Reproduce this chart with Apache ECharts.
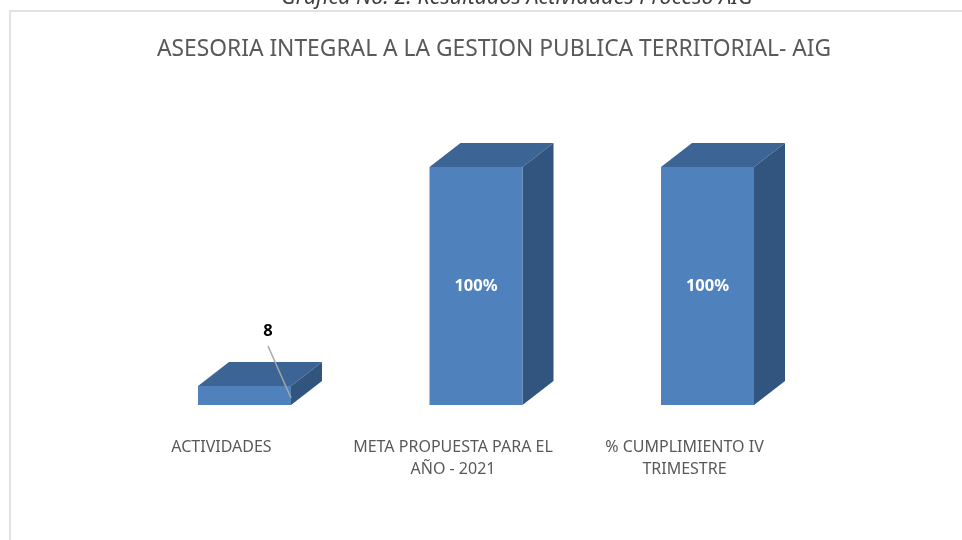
<!DOCTYPE html>
<html>
<head>
<meta charset="utf-8">
<script src="https://cdn.jsdelivr.net/npm/echarts@6/dist/echarts.min.js"></script>
<style>
    html, body { margin: 0; padding: 0; background: #fff; }
    #chart { width: 962px; height: 540px; }
</style>
</head>
<body>
<div id="chart"></div>
<script>
// datos
const categories = ['ACTIVIDADES', 'META PROPUESTA PARA EL\nAÑO - 2021', '% CUMPLIMIENTO IV\nTRIMESTRE']
const values = [8, 100, 100]
const valueLabels = ['8', '100%', '100%']

const FONT = '"Noto Sans", sans-serif'
const DX = 31 // profundidad 3D
const DY = 24

const renderBox = (params, api) => {
    const i = params.dataIndex
    const base = api.coord([api.value(0), 0])
    const top = api.coord([api.value(0), api.value(1)])
    const w = api.size([1, 0])[0] * 93 / 231.5
    const x0 = base[0] - w / 2
    const x1 = base[0] + w / 2
    const yb = base[1]
    const yt = top[1]
    const children = [
        { type: 'polygon', shape: { points: [[x0, yt], [x0 + DX, yt - DY], [x1 + DX, yt - DY], [x1, yt]] }, style: { fill: '#3C6596' } },
        { type: 'polygon', shape: { points: [[x1, yt], [x1 + DX, yt - DY], [x1 + DX, yb - DY], [x1, yb]] }, style: { fill: '#32557F' } },
        { type: 'rect', shape: { x: x0, y: yt, width: w, height: yb - yt }, style: { fill: '#4F81BD' } }
    ]
    if (yb - yt > 40) {
        children.push({
            type: 'text',
            style: { text: valueLabels[i], x: base[0], y: (yt + yb) / 2, align: 'center', verticalAlign: 'middle', fill: '#fff', font: 'bold 16.5px ' + FONT }
        })
    } else {
        // etiqueta fuera con línea guía
        children.push({ type: 'line', shape: { x1: x1 - 23, y1: yt - 40, x2: x1, y2: yb - 7 }, style: { stroke: '#A6A6A6', lineWidth: 1.5 } })
        children.push({
            type: 'text',
            style: { text: valueLabels[i], x: x1 - 23, y: yt - 55, align: 'center', verticalAlign: 'middle', fill: '#000', font: 'bold 16.5px ' + FONT }
        })
    }
    return { type: 'group', children }
}

const myChart = echarts.init(document.getElementById('chart'))
myChart.setOption({
    animation: false,
    graphic: [
        { type: 'rect', shape: { x: 10, y: 11, width: 1000, height: 600 }, style: { fill: 'none', stroke: '#D9D9D9', lineWidth: 1.5 }, silent: true },
        { type: 'text', style: { text: 'Gráfica No. 2. Resultados Actividades Proceso AIG', x: 517, y: 9, align: 'center', verticalAlign: 'bottom', fill: '#404040', font: 'italic 21.5px ' + FONT } },
        { type: 'text', style: { text: 'ASESORIA INTEGRAL A LA GESTION PUBLICA TERRITORIAL- AIG', x: 494, y: 50, align: 'center', verticalAlign: 'middle', fill: '#595959', font: '22.8px ' + FONT } }
    ],
    grid: { left: 128.75, right: 138.75, top: 167, bottom: 135 },
    xAxis: {
        type: 'category',
        data: categories,
        axisLine: { show: false },
        axisTick: { show: false },
        axisLabel: {
            margin: 31,
            color: '#595959',
            fontSize: 16,
            fontFamily: FONT,
            lineHeight: 22,
            padding: [0, 46, 0, 0],
            interval: 0
        }
    },
    yAxis: { type: 'value', min: 0, max: 100, show: false, splitLine: { show: false } },
    series: [{
        type: 'custom',
        renderItem: renderBox,
        data: values.map((v, i) => [i, v])
    }]
})
</script>
</body>
</html>
